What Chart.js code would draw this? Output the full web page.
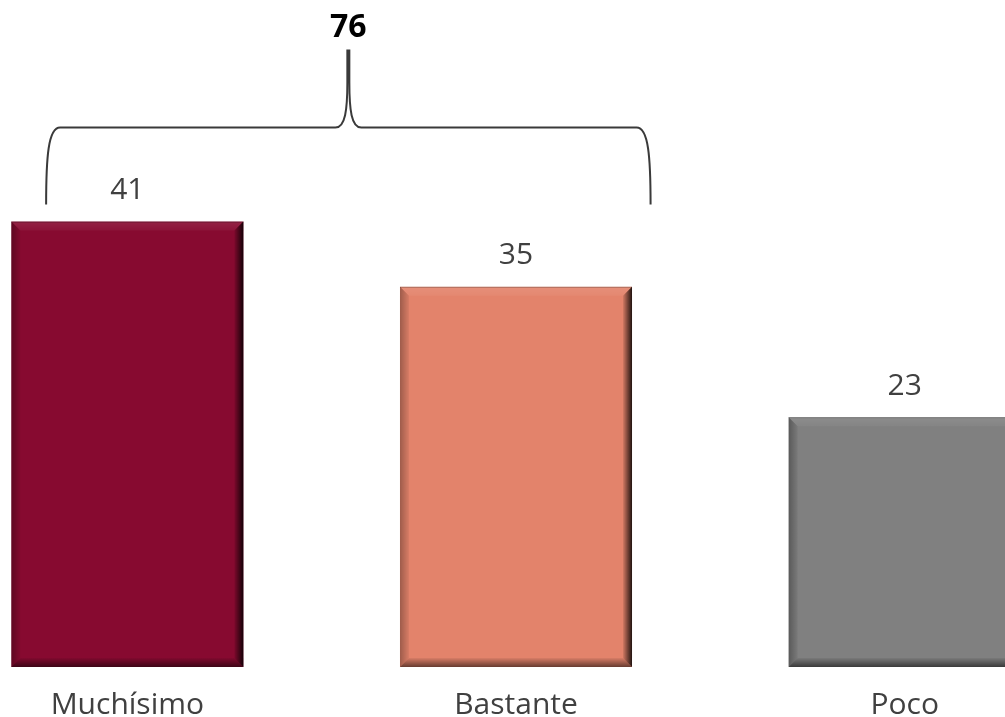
<!DOCTYPE html>
<html>
<head>
<meta charset="utf-8">
<script src="https://cdn.jsdelivr.net/npm/chart.js@4/dist/chart.umd.min.js"></script>
<style>
  html, body { margin: 0; padding: 0; background: #fff; overflow: hidden; }
  #wrap { position: absolute; left: -67px; top: 0; width: 1166px; height: 717px; }
</style>
</head>
<body>
<div id="wrap"><canvas id="NivelChart"></canvas></div>
<script>
const categories = ["Muchísimo", "Bastante", "Poco"];
const values = [41, 35, 23];
const barColors = ["#870A30", "#E3836B", "#808080"];
// bars grouped under the brace (indexes into categories)
const braceGroup = [0, 1];

const FONT = "'Open Sans', sans-serif";
const TEXT_COLOR = "#404040";

// shaded edges so each bar looks bevelled
const bevelPlugin = {
  id: "bevel",
  afterDatasetsDraw(chart) {
    const { ctx } = chart;
    const bars = chart.getDatasetMeta(0).data;
    const b = 9;

    bars.forEach((bar) => {
      const l = bar.x - bar.width / 2;
      const r = bar.x + bar.width / 2;
      const t = bar.y;
      const btm = bar.base;

      const side = (pts, x0, y0, x1, y1, c0, c1) => {
        const g = ctx.createLinearGradient(x0, y0, x1, y1);
        g.addColorStop(0, c0);
        g.addColorStop(1, c1);
        ctx.beginPath();
        ctx.moveTo(pts[0][0], pts[0][1]);
        pts.slice(1).forEach((p) => ctx.lineTo(p[0], p[1]));
        ctx.closePath();
        ctx.fillStyle = g;
        ctx.fill();
      };

      ctx.save();
      // top
      side([[l, t], [r, t], [r - b, t + b], [l + b, t + b]], 0, t, 0, t + b,
        "rgba(255,255,255,0.10)", "rgba(255,255,255,0.04)");
      // left
      side([[l, t], [l + b, t + b], [l + b, btm - b], [l, btm]], l, 0, l + b, 0,
        "rgba(0,0,0,0.30)", "rgba(0,0,0,0.05)");
      // bottom
      side([[l, btm], [l + b, btm - b], [r - b, btm - b], [r, btm]], 0, btm, 0, btm - b,
        "rgba(0,0,0,0.55)", "rgba(0,0,0,0.05)");
      // right
      side([[r, t], [r, btm], [r - b, btm - b], [r - b, t + b]], r, 0, r - b, 0,
        "rgba(0,0,0,0.85)", "rgba(0,0,0,0.08)");
      // thin dark outline on top edge
      ctx.fillStyle = "rgba(0,0,0,0.25)";
      ctx.fillRect(l, t, r - l, 1);
      ctx.restore();
    });
  },
};

// value above each bar, plus the brace with the group total
const labelsPlugin = {
  id: "valueLabels",
  afterDraw(chart) {
    const { ctx } = chart;
    const bars = chart.getDatasetMeta(0).data;

    ctx.save();
    ctx.font = `30px ${FONT}`;
    ctx.fillStyle = TEXT_COLOR;
    ctx.textAlign = "center";
    ctx.textBaseline = "middle";
    bars.forEach((bar, i) => {
      ctx.fillText(String(values[i]), bar.x, bar.y - 31);
    });

    const first = bars[braceGroup[0]];
    const last = bars[braceGroup[braceGroup.length - 1]];
    const top = Math.min(...braceGroup.map((i) => bars[i].y));
    const L = first.x - first.width * 0.35;
    const R = last.x + last.width * 0.58;
    const C = (L + R) / 2;
    const yEnd = top - 17;
    const yH = top - 94;
    const yTip = top - 172;

    ctx.strokeStyle = "#3a3a3a";
    ctx.lineWidth = 2;
    ctx.beginPath();
    ctx.moveTo(L, yEnd);
    ctx.bezierCurveTo(L, yH + 30, L + 2, yH, L + 14, yH);
    ctx.lineTo(C - 13, yH);
    ctx.bezierCurveTo(C - 3, yH, C - 1, yH - 18, C - 1, yH - 45);
    ctx.lineTo(C - 1, yTip);
    ctx.moveTo(C + 1, yTip);
    ctx.lineTo(C + 1, yH - 45);
    ctx.bezierCurveTo(C + 1, yH - 18, C + 3, yH, C + 13, yH);
    ctx.lineTo(R - 14, yH);
    ctx.bezierCurveTo(R - 2, yH, R, yH + 30, R, yEnd);
    ctx.stroke();

    const total = braceGroup.reduce((s, i) => s + values[i], 0);
    ctx.font = `bold 32px ${FONT}`;
    ctx.fillStyle = "#000";
    ctx.fillText(String(total), C, top - 194);
    ctx.restore();
  },
};

new Chart(document.getElementById("NivelChart"), {
  type: "bar",
  data: {
    labels: categories,
    datasets: [
      {
        data: values,
        backgroundColor: barColors,
        borderWidth: 0,
        barPercentage: 0.597,
        categoryPercentage: 1,
      },
    ],
  },
  options: {
    responsive: true,
    maintainAspectRatio: false,
    animation: false,
    layout: { padding: 0 },
    plugins: {
      legend: { display: false },
      tooltip: { enabled: false },
    },
    scales: {
      x: {
        grid: { display: false },
        border: { display: false },
        ticks: {
          color: TEXT_COLOR,
          font: { family: FONT, size: 30 },
          padding: 12,
          maxRotation: 0,
        },
        afterFit(scale) {
          scale.height = 50;
        },
      },
      y: {
        display: false,
        min: 0,
        max: 61.4,
      },
    },
  },
  plugins: [bevelPlugin, labelsPlugin],
});
</script>
</body>
</html>
